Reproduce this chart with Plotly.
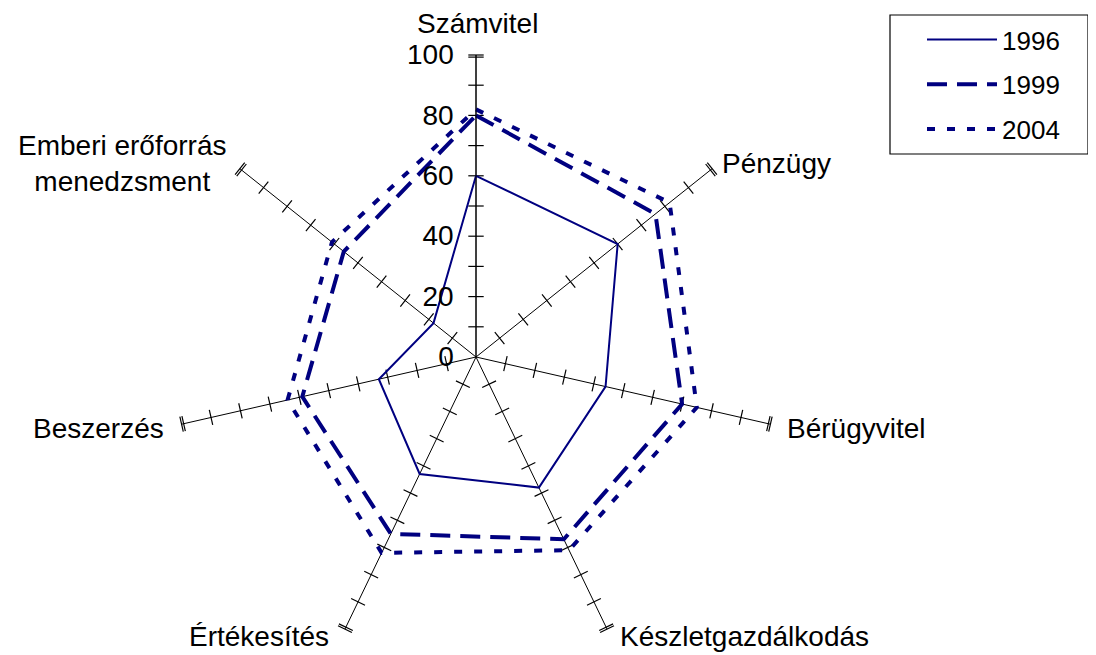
import plotly.graph_objects as go

categories = ["Számvitel", "Pénzügy", "Bérügyvitel", "Készletgazdálkodás",
              "Értékesítés", "Beszerzés", "Emberi erőforrás menedzsment"]
label_text = ["Számvitel", "Pénzügy", "Bérügyvitel", "Készletgazdálkodás",
              "Értékesítés", "Beszerzés", "Emberi erőforrás<br>menedzsment"]
v1996 = [60, 60, 44, 48, 43, 33, 18]
v1999 = [80, 76, 70, 67, 65, 59, 56]
v2004 = [82, 82, 75, 71, 72, 64, 61]
radial_ticks = [0, 20, 40, 60, 80, 100]
spoke_ticks = [10, 20, 30, 40, 50, 60, 70, 80, 90, 99.3, 100]

NAVY = "#000080"
FONT = "Liberation Sans, Arial, sans-serif"
W, H = 1088, 655
OFF = 8  # page body margin

def px(x):
    return (x - OFF) / W

def py(y):
    return 1 - (y - OFF) / H

fig = go.Figure()

# tick marks on every spoke
n = len(categories)
for i, cat in enumerate(categories):
    ang = i * 360.0 / n
    fig.add_trace(go.Scatterpolar(
        r=spoke_ticks, theta=[cat] * len(spoke_ticks), mode="markers",
        marker=dict(symbol="line-ew", size=11, angle=ang, color="black",
                    line=dict(color="black", width=1.2)),
        showlegend=False, hoverinfo="skip"))

def closed(v):
    return v + v[:1]

theta_c = categories + categories[:1]
fig.add_trace(go.Scatterpolar(r=closed(v1996), theta=theta_c, mode="lines", name="1996",
                              legendgroup="a", line=dict(color=NAVY, width=2)))
fig.add_trace(go.Scatterpolar(r=closed(v1999), theta=theta_c, mode="lines", name="1999",
                              legendgroup="b", line=dict(color=NAVY, width=4, dash="20px,10px")))
fig.add_trace(go.Scatterpolar(r=closed(v2004), theta=theta_c, mode="lines", name="2004",
                              legendgroup="c", line=dict(color=NAVY, width=4, dash="8px,12px")))

# category labels (page pixel positions around the chart)
label_pos = [(477, 24, "center"), (720, 163, "left"), (785, 428, "left"),
             (618, 636, "left"), (331, 636, "right"), (166, 428, "right"),
             (122, 163, "center")]
for txt, (x, y, anc) in zip(label_text, label_pos):
    fig.add_annotation(x=px(x), y=py(y), xref="paper", yref="paper",
                       text=txt, showarrow=False, xanchor=anc, yanchor="middle",
                       align="center",
                       font=dict(size=28, family=FONT, color="black"))

# legend frame
fig.add_shape(type="rect", xref="paper", yref="paper",
              x0=px(890), x1=px(1088), y0=py(154), y1=py(15),
              line=dict(color="black", width=1.2), fillcolor="rgba(0,0,0,0)")

R = 302
cx, cy = 476, 357
fig.update_layout(
    width=W, height=H,
    margin=dict(l=0, r=0, t=0, b=0),
    paper_bgcolor="white", plot_bgcolor="white",
    font=dict(family=FONT, size=26, color="black"),
    polar=dict(
        domain=dict(x=[px(cx - R), px(cx + R)], y=[py(cy + R), py(cy - R)]),
        bgcolor="white",
        radialaxis=dict(range=[0, 100], tickvals=radial_ticks,
                        ticks="outside", ticklen=12, tickcolor="rgba(0,0,0,0)",
                        showline=True, linecolor="black", linewidth=1,
                        showgrid=False, angle=90, side="counterclockwise",
                        tickangle=90,
                        tickfont=dict(size=28, family=FONT, color="black")),
        angularaxis=dict(direction="clockwise", rotation=90, showline=False,
                         showgrid=True, gridcolor="black", gridwidth=1, ticks="",
                         showticklabels=False),
    ),
    legend=dict(x=px(922), y=py(16), xanchor="left", yanchor="top",
                borderwidth=0, bgcolor="rgba(0,0,0,0)", tracegroupgap=8,
                font=dict(size=26, family=FONT, color="black"), itemwidth=70),
)

fig.write_html("out.html")
